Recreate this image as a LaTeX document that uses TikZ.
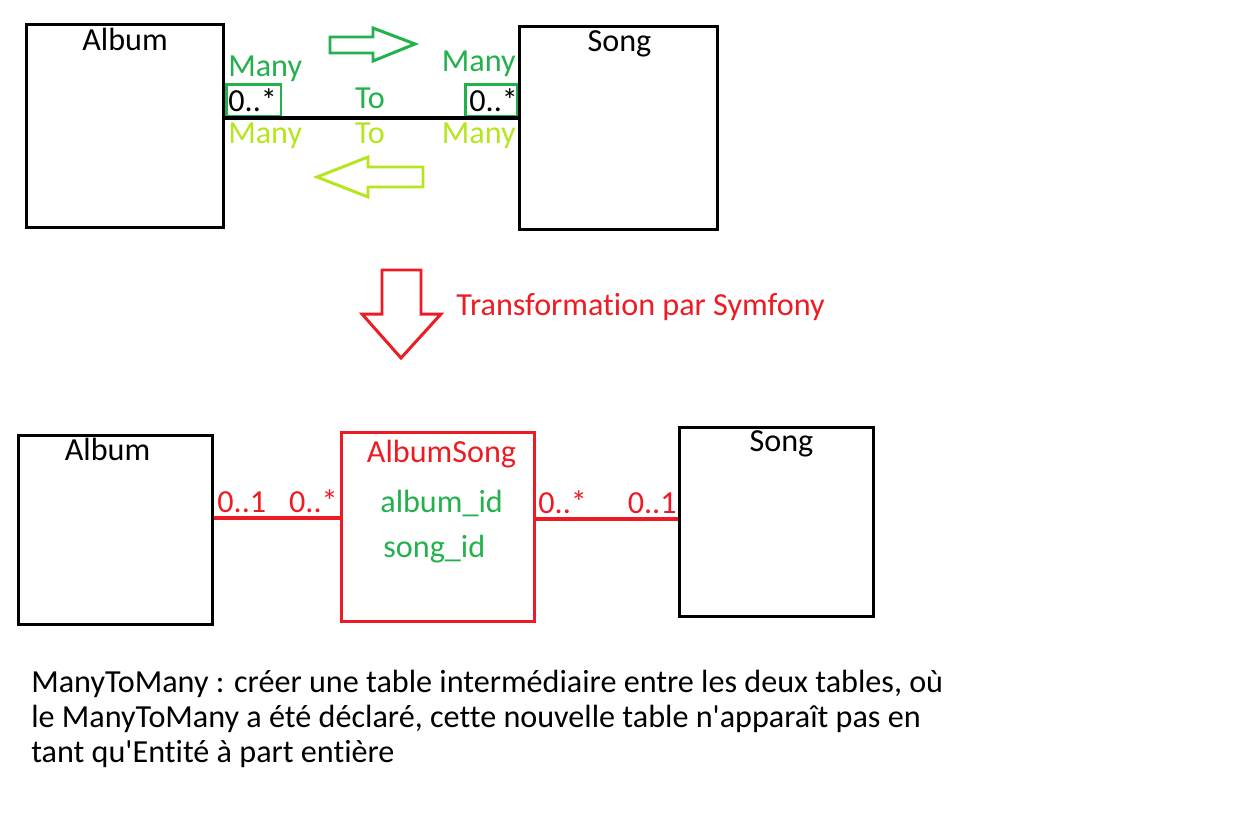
\documentclass[tikz,border=0pt]{standalone}
\usepackage{fontspec}
\setmainfont[Ligatures=NoCommon]{Carlito}
\usepackage{xcolor}
\usepackage{tikz}
\usetikzlibrary{positioning}
\definecolor{dkgreen}{HTML}{22B14C}
\definecolor{ltgreen}{HTML}{B5E61D}
\definecolor{pred}{HTML}{ED1C24}
\tikzset{
    table/.style={rectangle, draw=black, line width=1.7pt, inner sep=0pt},
    newtable/.style={table, draw=pred},
    tabletitle/.style={anchor=base, inner sep=0pt, font=\fontsize{18.3}{21}\selectfont},
    txt/.style={inner sep=0pt, font=\fontsize{18.3}{21}\selectfont},
    multbox/.style={rectangle, draw=dkgreen, line width=1.7pt, minimum width=1.1cm, minimum height=0.64cm, inner sep=0pt},
    link/.style={line width=1.8pt},
    blockarrow/.style={line width=1.7pt, line join=miter, fill=white}
}

\begin{document}
\begin{tikzpicture}[x=0.02cm, y=-0.02cm]
    \useasboundingbox (0,0) rectangle (1248,812);

    % Before: Album -- Song
    \node (album1) [table, minimum width=3.96cm, minimum height=4.08cm] at (125,126) {};
    \node (song1) [table, minimum width=3.98cm, minimum height=4.08cm] at (618.5,128) {};
    \node [tabletitle] at (125,50) {Album};
    \node [tabletitle] at (619.5,51) {Song};

    \node (mult1) [multbox] at (253.5,100) {};
    \node (mult2) [multbox, minimum width=1.04cm] at (491,100) {};
    \node [txt, anchor=base west] at (228,111) {0..*};
    \node [txt, anchor=base west] at (469,111) {0..*};

    \draw [link] (album1.east) ++(0,-8) coordinate (lk1) -- (lk1 -| song1.west);

    \node [txt, text=dkgreen, anchor=base west] at (228,76) {Many};
    \node [txt, text=dkgreen, anchor=base] at (370,108) {To};
    \node [txt, text=dkgreen, anchor=base east] at (516,71) {Many};
    \node [txt, text=ltgreen, anchor=base west] at (228,143) {Many};
    \node [txt, text=ltgreen, anchor=base] at (370,143) {To};
    \node [txt, text=ltgreen, anchor=base east] at (516,143) {Many};

    % Direction arrows
    \draw [blockarrow, draw=dkgreen] (330,37) -- (373,37) -- (373,28) -- (415,44)
        -- (373,61) -- (373,53) -- (330,53) -- cycle;
    \draw [blockarrow, draw=ltgreen] (423,167) -- (368,167) -- (368,157) -- (317,177)
        -- (368,197) -- (368,187) -- (423,187) -- cycle;

    % Transformation
    \draw [blockarrow, draw=pred] (382,270) -- (421,270) -- (421,314) -- (441,314)
        -- (401,358) -- (362,314) -- (382,314) -- cycle;
    \node (transf) [txt, text=pred, anchor=base west] at (456,315) {Transformation par Symfony};

    % After: Album -- AlbumSong -- Song
    \node (album2) [table, minimum width=3.9cm, minimum height=3.8cm] at (115.5,530) {};
    \node (albsong) [newtable, minimum width=3.88cm, minimum height=3.8cm] at (438,527) {};
    \node (song2) [table, minimum width=3.9cm, minimum height=3.8cm] at (776.5,522) {};
    \node [tabletitle] at (107.5,460) {Album};
    \node [tabletitle, text=pred] at (441.5,462) {AlbumSong};
    \node [tabletitle] at (781.5,451) {Song};
    \node [txt, text=dkgreen, anchor=base west] at (380,512) {album\_id};
    \node [txt, text=dkgreen, anchor=base west] at (383,557) {song\_id};

    \draw [link, draw=pred] (album2.east) ++(0,-12) coordinate (lk2) -- (lk2 -| albsong.west);
    \draw [link, draw=pred] (albsong.east) ++(0,-8) coordinate (lk3) -- (lk3 -| song2.west);

    \node [txt, text=pred, anchor=base west] at (217,512) {0..1};
    \node [txt, text=pred, anchor=base east] at (338,512) {0..*};
    \node [txt, text=pred, anchor=base west] at (538,513) {0..*};
    \node [txt, text=pred, anchor=base east] at (677,513) {0..1};

    % Note
    \node (note1) [txt, anchor=base west] at (31,692)
        {ManyToMany : créer une table intermédiaire entre les deux tables, où};
    \node (note2) [txt, anchor=base west] at (31,727)
        {le ManyToMany a été déclaré, cette nouvelle table n\textquotesingle apparaît pas en};
    \node (note3) [txt, anchor=base west] at (31,762)
        {tant qu\textquotesingle Entité à part entière};
\end{tikzpicture}
\end{document}
